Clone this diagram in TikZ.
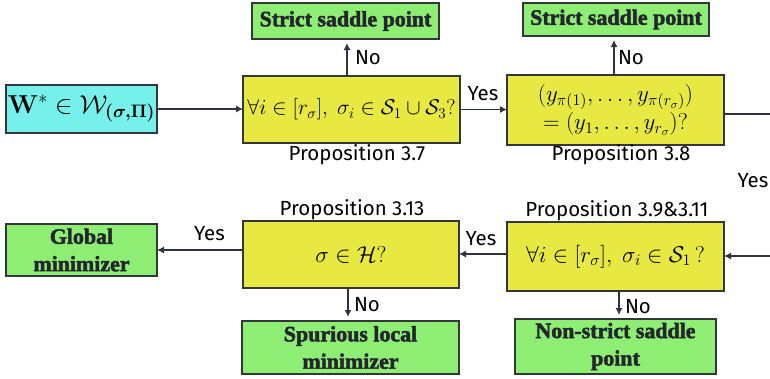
\RequirePackage{fix-cm}
\documentclass[tikz,border=0pt]{standalone}
\usepackage{amsmath}
\usepackage[no-math]{fontspec}
\setmainfont{Fira Sans}
\newfontfamily\boxfont{Liberation Serif}[UprightFont=* Bold, FakeBold=2.2]
\usetikzlibrary{arrows.meta}
\definecolor{cyanc}{HTML}{76F0EB}
\definecolor{qyel}{HTML}{E8E842}
\definecolor{ggreen}{HTML}{8EEE74}
\definecolor{bordc}{HTML}{33363B}
\definecolor{arrc}{HTML}{2F3540}
\definecolor{gtext}{HTML}{23272D}
\begin{document}
\begin{tikzpicture}[x=1bp,y=-1bp,
  every node/.style={inner sep=0pt, outer sep=0pt},
  box/.style={draw=bordc, line width=1.1bp, align=center},
  qbox/.style={box, fill=qyel, minimum width=217bp, font=\fontsize{23}{28}\selectfont},
  gbox/.style={box, fill=ggreen, text=gtext, font=\boxfont\fontsize{22}{27.5}\selectfont},
  lab/.style={font=\fontsize{20.5}{22}\selectfont, text=black},
  arr/.style={draw=arrc, line width=1.1bp, -{Latex[length=7bp,width=7bp]}},
  varr/.style={arr, shorten >=4bp},
]
\useasboundingbox (0,0) rectangle (770,378);

% main boxes
\node[box, fill=cyanc, minimum width=151bp, minimum height=48bp,
      font=\fontsize{26}{28}\selectfont] (W) at (81.5,109)
  {$\mathbf{W}^{*}\in\mathcal{W}_{\boldsymbol{(\sigma,\Pi)}}$};
\node[qbox, minimum height=67bp, font=\fontsize{21.5}{28}\selectfont] (p37) at (351.5,109.5)
  {$\forall i\in[r_\sigma],\ \sigma_i\in\mathcal{S}_1\cup\mathcal{S}_3?$};
\node[qbox, minimum height=70bp] (p38) at (615.5,110)
  {$(y_{\pi(1)},\ldots,y_{\pi(r_\sigma)})$\\ $=(y_1,\ldots,y_{r_\sigma})?$};
\node[qbox, minimum height=69bp] (p39) at (615.5,256.5)
  {$\forall i\in[r_\sigma],\ \sigma_i\in\mathcal{S}_1\,?$};
\node[qbox, minimum width=216bp, minimum height=67bp] (p313) at (351,254.5)
  {$\sigma\in\mathcal{H}?$};

% outcome boxes
\node[gbox, minimum width=187bp, minimum height=36bp] (s1) at (345.5,21) {Strict saddle point};
\node[gbox, minimum width=186bp, minimum height=33bp] (s2) at (616,19.5) {Strict saddle point};
\node[gbox, minimum width=201bp, minimum height=55bp] (ns) at (615.5,346.5) {Non-strict saddle\\point};
\node[gbox, minimum width=217bp, minimum height=53bp] (sp) at (350.5,347.5) {Spurious local\\minimizer};
\node[gbox, minimum width=151bp, minimum height=52bp] (gm) at (81.5,250) {Global\\minimizer};

% off-picture ends
\coordinate (r1) at (770,114);
\coordinate (r2) at (770,256);

% connectors
\draw[arr] (W.east) -- (W.east -| p37.west);
\draw[varr] (p37.north -| 347,0) -- (s1.south -| 347,0);
\draw[arr] (p37.east) -- (p37.east -| p38.west);
\draw[varr] (p38.north -| 614,0) -- (s2.south -| 614,0);
\draw[draw=arrc, line width=1.1bp] (p38.east |- r1) -- (r1);
\draw[arr] (r2) -- (r2 -| p39.east);
\draw[arr] (p39.west |- 0,254) -- (p313.east |- 0,254);
\draw[varr] (p39.south -| 619,0) -- (ns.north -| 619,0);
\draw[arr] (p313.west |- gm.east) -- (gm.east);
\draw[varr] (p313.south -| 348,0) -- (sp.north -| 348,0);

% labels
\node[lab, anchor=west] (n1) at (355,58) {No};
\node[lab, anchor=west] (n2) at (618,58) {No};
\node[lab] (y1) at (483,94) {Yes};
\node[lab] (pr37) at (357,155) {Proposition 3.7};
\node[lab] (pr38) at (621,155) {Proposition 3.8};
\node[lab] (y2) at (753,181) {Yes};
\node[lab] (pr39) at (617,211) {Proposition 3.9\&3.11};
\node[lab] (y3) at (481,239) {Yes};
\node[lab, anchor=west] (n3) at (625,307) {No};
\node[lab] (pr313) at (352,210) {Proposition 3.13};
\node[lab] (y4) at (209.5,234) {Yes};
\node[lab, anchor=west] (n4) at (354,305) {No};
\end{tikzpicture}
\end{document}
